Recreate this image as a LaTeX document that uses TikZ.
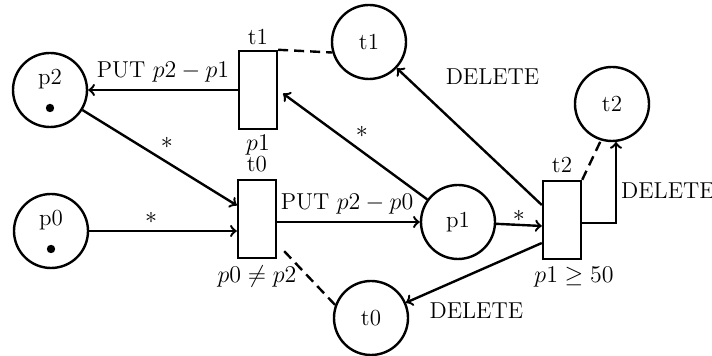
\documentclass[tikz,border=0pt]{standalone}
\usetikzlibrary{calc}
\begin{document}
\begin{tikzpicture}[x=0.5pt,y=-0.5pt,
  every node/.style={font=\fontsize{11.5}{13.5}\selectfont},
  place/.style={circle,draw,line width=1.2pt,minimum size=37pt,inner sep=0pt},
  trans/.style={rectangle,draw,line width=1.2pt,minimum width=19pt,minimum height=39pt,inner sep=0pt},
  token/.style={circle,fill,inner sep=0pt,minimum size=4.2pt},
  arc/.style={->,line width=1.2pt},
  link/.style={line width=1.2pt,dash pattern=on 5pt off 3pt}]
\useasboundingbox (0,0) rectangle (712,356);
% places
\node[place] (p2) at (50,90) {};
\node (p2txt) at (50,79) {p2};
\node[token] (p2tok) at (50,108) {};
\node[place] (p0) at (51,231) {};
\node (p0txt) at (51,220) {p0};
\node[token] (p0tok) at (51,249) {};
\node[place] (p1) at (458,222) {p1};
\node[place] (t1c) at (369,42) {t1};
\node[place] (t2c) at (612,104) {t2};
\node[place] (t0c) at (371,318) {t0};
% transitions
\node[trans,label={[yshift=-1pt]above:t1},label={[yshift=1pt]below:$p1$}] (t1) at (258,90) {};
\node[trans,label={above:t0},label={below:$p0\neq p2$}] (t0) at (257,219) {};
\node[trans,label={above:t2},label={[xshift=6pt]below:$p1\geq 50$}] (t2) at (562,220) {};
% arcs
\draw[arc] (t1) -- (p2) node[midway,above] {PUT $p2-p1$};
\draw[arc] (p2) -- (t0.146) node[midway,above right,inner sep=1pt,yshift=3pt,xshift=-1pt] {$*$};
\draw[arc] (p0) -- (p0 -| t0.west) node[pos=0.42,above] {$*$};
\draw[arc] (t0.east |- p1) -- (p1) node[pos=0.49,above] {PUT $p2-p0$};
\draw[arc,shorten >=3pt] (p1) -- (t1.east) node[midway,above right,inner sep=1pt,yshift=2pt] {$*$};
\draw[arc] (p1) -- ($(t2.west)+(0,6)$) node[midway,above,inner sep=1pt] {$*$};
\draw[arc] ($(t2.west)+(0,-15)$) -- (t1c) node[pos=0.85,xshift=37pt,yshift=6pt] {DELETE};
\draw[arc] ($(t2.west)+(0,23)$) -- (t0c) node[pos=0.85,xshift=25pt,yshift=-8.5pt] {DELETE};
\draw[arc] ($(t2.east)+(0,3)$) -| (t2c.-84) node[pos=0.75,right,inner sep=1pt,xshift=1pt,yshift=-4pt] {DELETE};
% links
\draw[link] (t1.north east) -- (t1c.196);
\draw[link] ($(t0.south east)+(7,-8)$) -- (t0c.160);
\draw[link] (t2.north east) -- (t2c.253);
\end{tikzpicture}
\end{document}
